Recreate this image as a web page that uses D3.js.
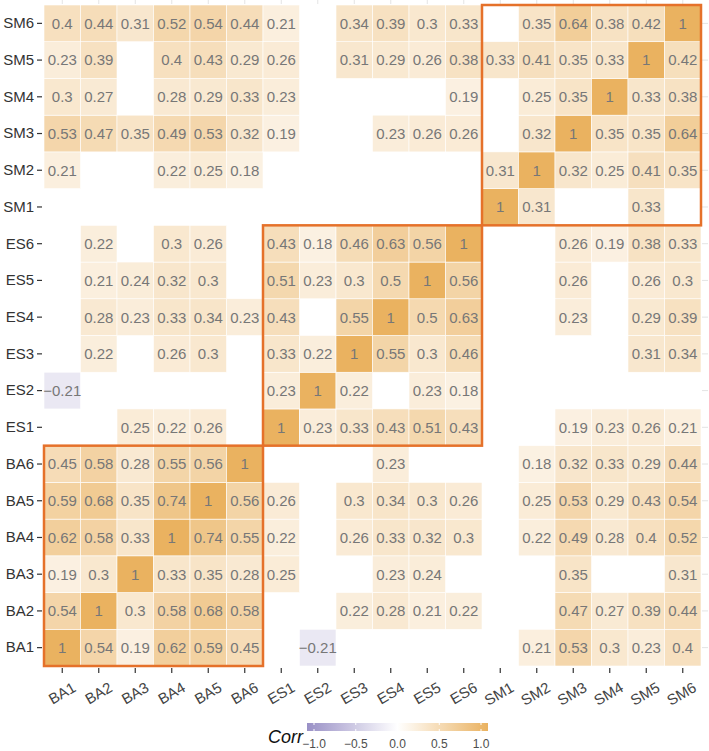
<!DOCTYPE html>
<html>
<head>
<meta charset="utf-8">
<script src="https://cdn.jsdelivr.net/npm/d3@7"></script>
<style>
  body { margin: 0; background: #fff; }
  svg { font-family: "Liberation Sans", Arial, sans-serif; }
</style>
</head>
<body>
<svg width="709" height="751"></svg>
<script>
// variables, bottom-to-top on y and left-to-right on x
var vars = ["BA1","BA2","BA3","BA4","BA5","BA6","ES1","ES2","ES3","ES4","ES5","ES6","SM1","SM2","SM3","SM4","SM5","SM6"];

// correlation rows (null = not significant, left blank)
var BA1 = [1, 0.54, 0.19, 0.62, 0.59, 0.45, null, -0.21, null, null, null, null, null, 0.21, 0.53, 0.3, 0.23, 0.4];
var BA2 = [0.54, 1, 0.3, 0.58, 0.68, 0.58, null, null, 0.22, 0.28, 0.21, 0.22, null, null, 0.47, 0.27, 0.39, 0.44];
var BA3 = [0.19, 0.3, 1, 0.33, 0.35, 0.28, 0.25, null, null, 0.23, 0.24, null, null, null, 0.35, null, null, 0.31];
var BA4 = [0.62, 0.58, 0.33, 1, 0.74, 0.55, 0.22, null, 0.26, 0.33, 0.32, 0.3, null, 0.22, 0.49, 0.28, 0.4, 0.52];
var BA5 = [0.59, 0.68, 0.35, 0.74, 1, 0.56, 0.26, null, 0.3, 0.34, 0.3, 0.26, null, 0.25, 0.53, 0.29, 0.43, 0.54];
var BA6 = [0.45, 0.58, 0.28, 0.55, 0.56, 1, null, null, null, 0.23, null, null, null, 0.18, 0.32, 0.33, 0.29, 0.44];
var ES1 = [null, null, 0.25, 0.22, 0.26, null, 1, 0.23, 0.33, 0.43, 0.51, 0.43, null, null, 0.19, 0.23, 0.26, 0.21];
var ES2 = [-0.21, null, null, null, null, null, 0.23, 1, 0.22, null, 0.23, 0.18, null, null, null, null, null, null];
var ES3 = [null, 0.22, null, 0.26, 0.3, null, 0.33, 0.22, 1, 0.55, 0.3, 0.46, null, null, null, null, 0.31, 0.34];
var ES4 = [null, 0.28, 0.23, 0.33, 0.34, 0.23, 0.43, null, 0.55, 1, 0.5, 0.63, null, null, 0.23, null, 0.29, 0.39];
var ES5 = [null, 0.21, 0.24, 0.32, 0.3, null, 0.51, 0.23, 0.3, 0.5, 1, 0.56, null, null, 0.26, null, 0.26, 0.3];
var ES6 = [null, 0.22, null, 0.3, 0.26, null, 0.43, 0.18, 0.46, 0.63, 0.56, 1, null, null, 0.26, 0.19, 0.38, 0.33];
var SM1 = [null, null, null, null, null, null, null, null, null, null, null, null, 1, 0.31, null, null, 0.33, null];
var SM2 = [0.21, null, null, 0.22, 0.25, 0.18, null, null, null, null, null, null, 0.31, 1, 0.32, 0.25, 0.41, 0.35];
var SM3 = [0.53, 0.47, 0.35, 0.49, 0.53, 0.32, 0.19, null, null, 0.23, 0.26, 0.26, null, 0.32, 1, 0.35, 0.35, 0.64];
var SM4 = [0.3, 0.27, null, 0.28, 0.29, 0.33, 0.23, null, null, null, null, 0.19, null, 0.25, 0.35, 1, 0.33, 0.38];
var SM5 = [0.23, 0.39, null, 0.4, 0.43, 0.29, 0.26, null, 0.31, 0.29, 0.26, 0.38, 0.33, 0.41, 0.35, 0.33, 1, 0.42];
var SM6 = [0.4, 0.44, 0.31, 0.52, 0.54, 0.44, 0.21, null, 0.34, 0.39, 0.3, 0.33, null, 0.35, 0.64, 0.38, 0.42, 1];

var rows = [BA1, BA2, BA3, BA4, BA5, BA6, ES1, ES2, ES3, ES4, ES5, ES6, SM1, SM2, SM3, SM4, SM5, SM6];

// highlighted blocks
var blocks = [
  {from: "BA1", to: "BA6"},
  {from: "ES1", to: "ES6"},
  {from: "SM1", to: "SM6"}
];

var legendTicks = [-1, -0.5, 0, 0.5, 1];

var svg = d3.select("svg");

var x = d3.scaleBand().domain(vars).range([44, 701]);
var y = d3.scaleBand().domain(vars).range([666, 5]);

var color = d3.scaleLinear()
  .domain([-1, 0, 1])
  .range(["#9990c6", "#ffffff", "#eab260"]);

// flatten to cells
var cells = [];
rows.forEach(function(r, i) {
  r.forEach(function(v, j) {
    if (v !== null) cells.push({row: vars[i], col: vars[j], value: v});
  });
});

// faint ticks on top and right
svg.append("g").selectAll("line")
  .data(vars).enter().append("line")
  .attr("x1", function(d) { return x(d) + x.bandwidth() / 2; })
  .attr("x2", function(d) { return x(d) + x.bandwidth() / 2; })
  .attr("y1", 0).attr("y2", 4)
  .attr("stroke", "#e4e4e4");
svg.append("g").selectAll("line")
  .data(vars).enter().append("line")
  .attr("y1", function(d) { return y(d) + y.bandwidth() / 2; })
  .attr("y2", function(d) { return y(d) + y.bandwidth() / 2; })
  .attr("x1", 702).attr("x2", 708)
  .attr("stroke", "#e4e4e4");

// tiles
svg.append("g").selectAll("rect")
  .data(cells).enter().append("rect")
  .attr("x", function(d) { return x(d.col); })
  .attr("y", function(d) { return y(d.row); })
  .attr("width", x.bandwidth())
  .attr("height", y.bandwidth())
  .attr("fill", function(d) { return color(d.value); })
  .attr("stroke", "#ffffff")
  .attr("stroke-width", 0.6);

// labels inside tiles
svg.append("g").selectAll("text")
  .data(cells).enter().append("text")
  .attr("x", function(d) { return x(d.col) + x.bandwidth() / 2; })
  .attr("y", function(d) { return y(d.row) + y.bandwidth() / 2; })
  .attr("dy", "0.36em")
  .attr("text-anchor", "middle")
  .attr("font-size", 15)
  .attr("fill", "#777777")
  .text(function(d) { return d.value < 0 ? "\u2212" + Math.abs(d.value) : d.value; });

// orange boxes
svg.append("g").selectAll("rect")
  .data(blocks).enter().append("rect")
  .attr("x", function(d) { return x(d.from); })
  .attr("y", function(d) { return y(d.to); })
  .attr("width", function(d) { return x(d.to) + x.bandwidth() - x(d.from); })
  .attr("height", function(d) { return y(d.from) + y.bandwidth() - y(d.to); })
  .attr("fill", "none")
  .attr("stroke", "#e5712a")
  .attr("stroke-width", 2.5);

// axes
var yAxis = svg.append("g")
  .attr("transform", "translate(42,0)")
  .call(d3.axisLeft(y).tickSize(5).tickPadding(3));
yAxis.select(".domain").remove();
yAxis.selectAll("line").attr("stroke", "#333").attr("stroke-width", 1.2);
yAxis.selectAll("text").attr("font-size", 15).attr("fill", "#333");

var xAxis = svg.append("g")
  .attr("transform", "translate(0,668)")
  .call(d3.axisBottom(x).tickSize(5).tickPadding(3));
xAxis.select(".domain").remove();
xAxis.selectAll("line").attr("stroke", "#333").attr("stroke-width", 1.2);
xAxis.selectAll("text")
  .attr("font-size", 15)
  .attr("fill", "#444")
  .attr("text-anchor", "end")
  .attr("dy", "0.9em")
  .attr("transform", "translate(4,4) rotate(-30)");

// legend
var lx = d3.scaleLinear().domain([-1, 1]).range([314, 481]);
var defs = svg.append("defs");
var grad = defs.append("linearGradient").attr("id", "corrgrad");
d3.range(0, 1.0001, 0.1).forEach(function(t) {
  grad.append("stop")
    .attr("offset", (t * 100) + "%")
    .attr("stop-color", color(-1 + 2 * t));
});
svg.append("rect")
  .attr("x", lx(-1) - 7).attr("y", 723)
  .attr("width", lx(1) - lx(-1) + 14).attr("height", 8)
  .attr("fill", "url(#corrgrad)");
svg.append("g").selectAll("line")
  .data(legendTicks).enter().append("line")
  .attr("x1", function(d) { return lx(d); })
  .attr("x2", function(d) { return lx(d); })
  .attr("y1", 723).attr("y2", 725)
  .attr("stroke", "#fff");
svg.append("g").selectAll("line")
  .data(legendTicks).enter().append("line")
  .attr("x1", function(d) { return lx(d); })
  .attr("x2", function(d) { return lx(d); })
  .attr("y1", 729).attr("y2", 731)
  .attr("stroke", "#fff");
svg.append("g").selectAll("text")
  .data(legendTicks).enter().append("text")
  .attr("x", function(d) { return lx(d); })
  .attr("y", 748)
  .attr("text-anchor", "middle")
  .attr("font-size", 12)
  .attr("fill", "#4d4d4d")
  .text(function(d) { return d3.format(".1f")(d).replace("-", "\u2212"); });
svg.append("text")
  .attr("x", 303).attr("y", 743)
  .attr("text-anchor", "end")
  .attr("font-size", 18)
  .attr("font-style", "italic")
  .attr("fill", "#111")
  .text("Corr");
</script>
</body>
</html>
